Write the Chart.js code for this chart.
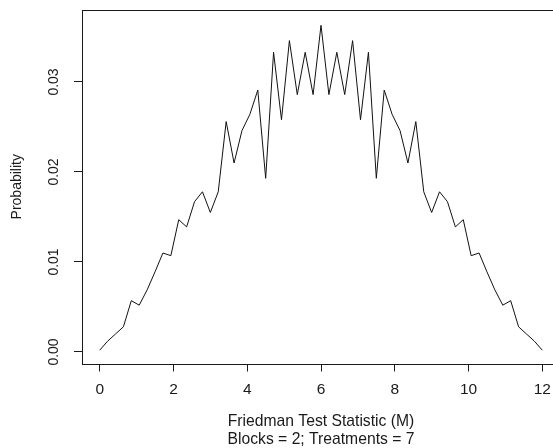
<!DOCTYPE html>
<html>
<head>
<meta charset="utf-8">
<script src="https://cdn.jsdelivr.net/npm/chart.js@4.4.1/dist/chart.umd.min.js"></script>
<style>
  html, body { margin: 0; padding: 0; background: #fff; overflow: hidden; }
  #wrap { width: 562px; height: 448px; position: relative; }
</style>
</head>
<body>
<div id="wrap"><canvas id="friedman"></canvas></div>
<script>
// Friedman M statistic, 2 blocks x 7 treatments
const mValues = [
  0, 0.214, 0.429, 0.643, 0.857, 1.071, 1.286, 1.5, 1.714, 1.929,
  2.143, 2.357, 2.571, 2.786, 3, 3.214, 3.429, 3.643, 3.857, 4.071,
  4.286, 4.5, 4.714, 4.929, 5.143, 5.357, 5.571, 5.786, 6, 6.214,
  6.429, 6.643, 6.857, 7.071, 7.286, 7.5, 7.714, 7.929, 8.143, 8.357,
  8.571, 8.786, 9, 9.214, 9.429, 9.643, 9.857, 10.071, 10.286, 10.5,
  10.714, 10.929, 11.143, 11.357, 11.571, 11.786, 12
];
const probs = [
  0.0002, 0.0012, 0.0020, 0.0028, 0.0057, 0.0052, 0.0069, 0.0089, 0.0110, 0.0107,
  0.0147, 0.0139, 0.0167, 0.0178, 0.0155, 0.0178, 0.0256, 0.0210, 0.0246, 0.0264,
  0.0291, 0.0193, 0.0333, 0.0258, 0.0346, 0.0286, 0.0333, 0.0286, 0.0363, 0.0286,
  0.0333, 0.0286, 0.0346, 0.0258, 0.0333, 0.0193, 0.0291, 0.0264, 0.0246, 0.0210,
  0.0256, 0.0178, 0.0155, 0.0178, 0.0167, 0.0139, 0.0147, 0.0107, 0.0110, 0.0089,
  0.0069, 0.0052, 0.0057, 0.0028, 0.0020, 0.0012, 0.0002
];
const xTicks = [0, 2, 4, 6, 8, 10, 12];
const yTicks = [0, 0.01, 0.02, 0.03];

const points = [];
for (let i = 0; i < mValues.length; i++) {
  points.push({ x: mValues[i], y: probs[i] });
}

const ink = "#1a1a1a";
const fam = "'Liberation Sans', Arial, sans-serif";

// box round the plot region
const boxPlugin = {
  id: "box",
  afterDraw(chart) {
    const a = chart.chartArea;
    const ctx = chart.ctx;
    ctx.save();
    ctx.strokeStyle = ink;
    ctx.lineWidth = 1;
    ctx.strokeRect(Math.round(a.left) + 0.5, Math.round(a.top) + 0.5,
      Math.round(a.right - a.left), Math.round(a.bottom - a.top));
    ctx.restore();
  }
};

new Chart(document.getElementById("friedman"), {
  type: "line",
  data: {
    datasets: [{
      data: points,
      borderColor: "#111",
      borderWidth: 1,
      pointRadius: 0,
      tension: 0,
      fill: false
    }]
  },
  options: {
    responsive: true,
    maintainAspectRatio: false,
    animation: false,
    layout: { padding: { top: 10, right: 2, left: 0, bottom: 0 } },
    plugins: { legend: { display: false }, tooltip: { enabled: false } },
    scales: {
      x: {
        type: "linear",
        min: -0.48,
        max: 12.48,
        afterBuildTicks: (axis) => { axis.ticks = xTicks.map(v => ({ value: v })); },
        afterFit: (axis) => {
          axis.height = 84.5;
          axis.paddingLeft = 0;
          axis.paddingRight = 0;
        },
        border: { display: false },
        grid: { drawOnChartArea: false, drawTicks: true, tickLength: 8, color: ink },
        ticks: {
          color: ink,
          padding: 9,
          maxRotation: 0,
          autoSkip: false,
          font: { family: fam, size: 15.5 },
          callback: (v) => String(v)
        },
        title: {
          display: true,
          text: ["Friedman Test Statistic (M)", "Blocks = 2; Treatments = 7"],
          color: ink,
          font: { family: fam, size: 15.7, lineHeight: 1.12 },
          padding: { top: 0, bottom: 0 }
        }
      },
      y: {
        min: -0.00128,
        max: 0.038,
        afterBuildTicks: (axis) => { axis.ticks = yTicks.map(v => ({ value: v })); },
        afterFit: (axis) => {
          axis.width = 82;
          axis.paddingTop = 0;
          axis.paddingBottom = 0;
        },
        border: { display: false },
        grid: { drawOnChartArea: false, drawTicks: true, tickLength: 8, color: ink },
        ticks: {
          color: ink,
          padding: 6,
          minRotation: 90,
          maxRotation: 90,
          crossAlign: "center",
          autoSkip: false,
          font: { family: fam, size: 14 },
          callback: (v) => v.toFixed(2)
        },
        title: {
          display: true,
          text: "Probability",
          color: ink,
          font: { family: fam, size: 14 },
          padding: { top: 9, bottom: 0 }
        }
      }
    }
  },
  plugins: [boxPlugin]
});
</script>
</body>
</html>
